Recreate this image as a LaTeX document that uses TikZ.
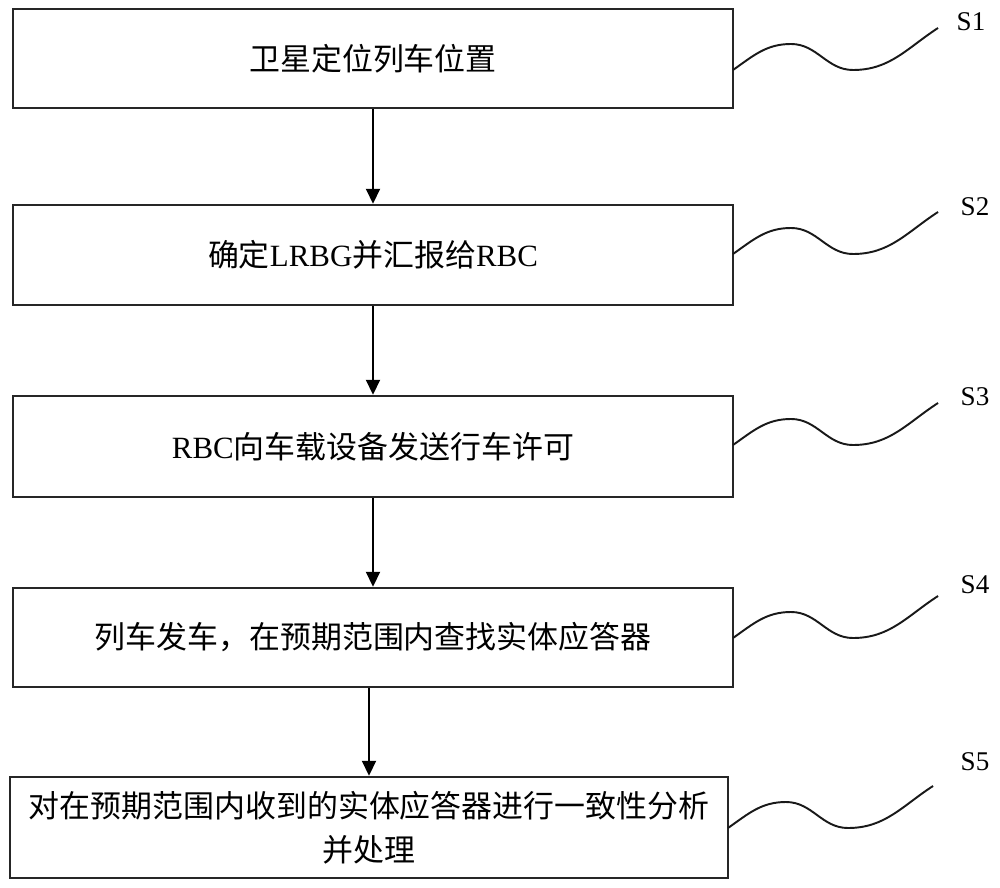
\documentclass[tikz,border=0pt]{standalone}
\usepackage{fontspec}
\setmainfont{Liberation Serif}
\newfontfamily\cjk{Noto Sans CJK SC}
\usetikzlibrary{arrows.meta}
\begin{document}
\begin{tikzpicture}[x=0.02cm,y=-0.02cm,
  stepbox/.style={draw=black!85,line width=1.4pt,rectangle,minimum width=14.4cm,align=center,
    font=\fontsize{17.6pt}{25pt}\selectfont,inner sep=0pt},
  arr/.style={draw=black,line width=1.1pt,-{Triangle[width=0.28cm,length=0.3cm]}},
  wave/.style={draw=black!90,line width=1.1pt},
  slabel/.style={font=\fontsize{15.4pt}{18pt}\selectfont,inner sep=0pt}]
\useasboundingbox (0,0) rectangle (1000,888);
\node[stepbox,minimum height=1.98cm] (b1) at (373,58.5) {\cjk 卫星定位列车位置};
\node[stepbox,minimum height=2cm] (b2) at (373,255) {{\cjk 确定}LRBG{\cjk 并汇报给}RBC};
\node[stepbox,minimum height=2.02cm] (b3) at (373,446.5) {RBC{\cjk 向车载设备发送行车许可}};
\node[stepbox,minimum height=1.98cm] (b4) at (373,637.5) {\cjk 列车发车，在预期范围内查找实体应答器};
\node[stepbox,minimum height=2.02cm,minimum width=14.36cm] (b5) at (369,827.5) {\cjk 对在预期范围内收到的实体应答器进行一致性分析\\\cjk 并处理};
\draw[arr] (b1.south) -- (b2.north);
\draw[arr] (b2.south) -- (b3.north);
\draw[arr] (b3.south) -- (b4.north);
\draw[arr] (b4.south -| b5.north) -- (b5.north);
\coordinate (w1) at (733,70);
\coordinate (w2) at (733,254);
\coordinate (w3) at (733,445);
\coordinate (w4) at (733,638);
\coordinate (w5) at (728,828);
\foreach \i in {1,...,5}{
  \draw[wave] (w\i) to[out=35,in=180] ++(58,-26) to[out=0,in=180] ++(62,26) to[out=0,in=213] ++(85,-42) coordinate (e\i);
}
\node[slabel] (s1) at (971,22) {S1};
\node[slabel] (s2) at (975,207) {S2};
\node[slabel] (s3) at (975,397) {S3};
\node[slabel] (s4) at (975,585) {S4};
\node[slabel] (s5) at (975,762) {S5};
\end{tikzpicture}
\end{document}
